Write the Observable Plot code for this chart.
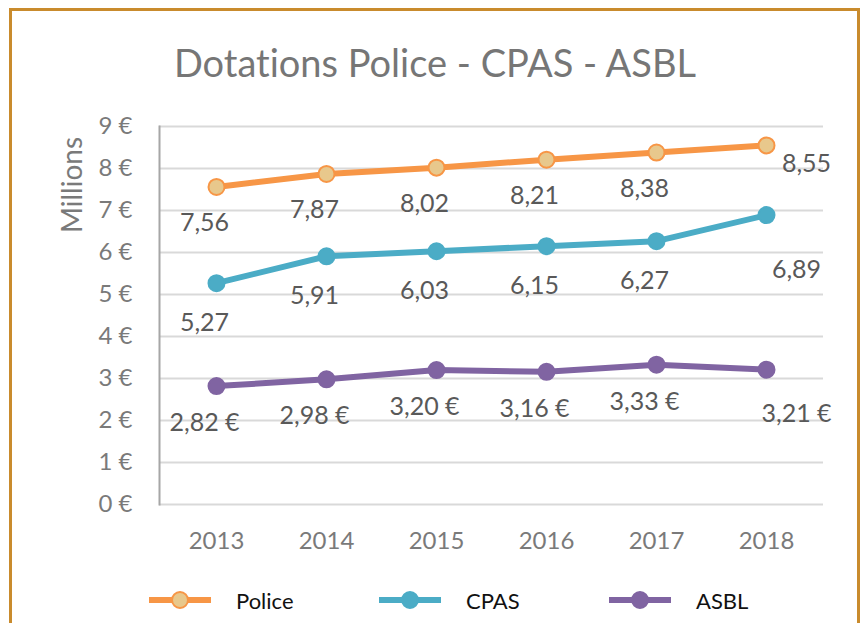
<!DOCTYPE html>
<html>
<head>
<meta charset="utf-8">
<script src="https://cdn.jsdelivr.net/npm/d3@7"></script>
<script src="https://cdn.jsdelivr.net/npm/@observablehq/plot@0.6"></script>
<style>
  html, body { margin: 0; padding: 0; background: #fff; }
  body { width: 862px; height: 623px; position: relative; overflow: hidden; font-family: Lato, "Open Sans", sans-serif; font-variant-ligatures: none; }
  #border { position: absolute; left: 9px; top: 8px; width: 851px; height: 640px; border: 3px solid #C98B2D; box-sizing: border-box; }
  #title { position: absolute; left: 0; width: 870px; top: 37px; text-align: center; font-size: 38px; color: #767676; line-height: 50px; }
  #chart { position: absolute; left: 0; top: 0; }
  #ylabel { position: absolute; left: 71px; top: 185px; transform: translate(-50%, -50%) rotate(-90deg); font-size: 28px; color: #7a7a7a; white-space: nowrap; }
  .leg { position: absolute; top: 584px; height: 32px; display: flex; align-items: center; }
  .leg span { font-size: 22px; color: #111; margin-left: 24px; }
  svg text { font-variant-ligatures: none; }
</style>
</head>
<body>
<div id="border"></div>
<div id="title">Dotations Police - CPAS - ASBL</div>
<div id="chart"></div>
<div id="ylabel">Millions</div>
<div id="legend"></div>
<script>
const years = [2013, 2014, 2015, 2016, 2017, 2018];
const police = [7.56, 7.87, 8.02, 8.21, 8.38, 8.55];
const cpas = [5.27, 5.91, 6.03, 6.15, 6.27, 6.89];
const asbl = [2.82, 2.98, 3.20, 3.16, 3.33, 3.21];
const yTicks = [0, 1, 2, 3, 4, 5, 6, 7, 8, 9];
const seriesNames = ["Police", "CPAS", "ASBL"];

const colors = { Police: "#F79646", CPAS: "#4BACC6", ASBL: "#8064A2" };
const markerFill = { Police: "#E8C88C", CPAS: "#4BACC6", ASBL: "#8064A2" };

const fmtNum = v => v.toFixed(2).replace(".", ",");
const fmtEur = v => fmtNum(v) + " €";

const series = [
  { name: "Police", values: police, fmt: fmtNum, dy: 36 },
  { name: "CPAS", values: cpas, fmt: fmtNum, dy: 40 },
  { name: "ASBL", values: asbl, fmt: fmtEur, dy: 37 }
];

const lastYear = years[years.length - 1];
const marks = [
  Plot.ruleY(yTicks, { stroke: "#D9D9D9", strokeWidth: 2 }),
  Plot.frame({ anchor: "left", stroke: "#A6A6A6", strokeWidth: 2 }),
  Plot.axisX({ tickSize: 0, tickPadding: 27, fontSize: 24, fill: "#7a7a7a", label: null, tickFormat: d => String(d) }),
  Plot.axisY({ ticks: yTicks, tickSize: 0, tickPadding: 27, fontSize: 24, fill: "#7a7a7a", label: null, tickFormat: d => d + " €" })
];

for (const s of series) {
  const data = years.map((y, i) => ({ year: y, value: s.values[i] }));
  marks.push(Plot.line(data, { x: "year", y: "value", stroke: colors[s.name], strokeWidth: 6 }));
  marks.push(Plot.dot(data, { x: "year", y: "value", r: 8, fill: markerFill[s.name], stroke: s.name === "Police" ? colors.Police : markerFill[s.name], strokeWidth: 2 }));
  marks.push(Plot.text(data.filter(d => d.year !== lastYear), { x: "year", y: "value", text: d => s.fmt(d.value), dy: s.dy, dx: -12, fontSize: 25, fill: "#595959" }));
}
const lastIdx = years.length - 1;
marks.push(Plot.text([{ year: lastYear, value: police[lastIdx] }], { x: "year", y: "value", text: d => fmtNum(d.value), dx: 40, dy: 19, fontSize: 25, fill: "#595959" }));
marks.push(Plot.text([{ year: lastYear, value: cpas[lastIdx] }], { x: "year", y: "value", text: d => fmtNum(d.value), dx: 30, dy: 55, fontSize: 25, fill: "#595959" }));
marks.push(Plot.text([{ year: lastYear, value: asbl[lastIdx] }], { x: "year", y: "value", text: d => fmtEur(d.value), dx: 30, dy: 44, fontSize: 25, fill: "#595959" }));

const chart = Plot.plot({
  width: 862,
  height: 570,
  marginTop: 126,
  marginBottom: 66,
  marginLeft: 159,
  marginRight: 39,
  style: { fontFamily: "Lato, 'Open Sans', sans-serif", background: "transparent", overflow: "visible" },
  x: { type: "point", domain: years, padding: 0.5, label: null },
  y: { domain: [0, 9], label: null },
  marks
});
document.getElementById("chart").appendChild(chart);

// Legend
const legendX = [148, 378, 608];
const legend = d3.select("#legend");
seriesNames.forEach((name, i) => {
  const item = legend.append("div").attr("class", "leg").style("left", legendX[i] + "px");
  const svg = item.append("svg").attr("width", 64).attr("height", 32);
  svg.append("line").attr("x1", 1).attr("x2", 63).attr("y1", 16).attr("y2", 16)
    .attr("stroke", colors[name]).attr("stroke-width", 6);
  svg.append("circle").attr("cx", 32).attr("cy", 16).attr("r", 8)
    .attr("fill", markerFill[name]).attr("stroke", name === "Police" ? colors.Police : markerFill[name]).attr("stroke-width", 2);
  item.append("span").text(name);
});
</script>
</body>
</html>
